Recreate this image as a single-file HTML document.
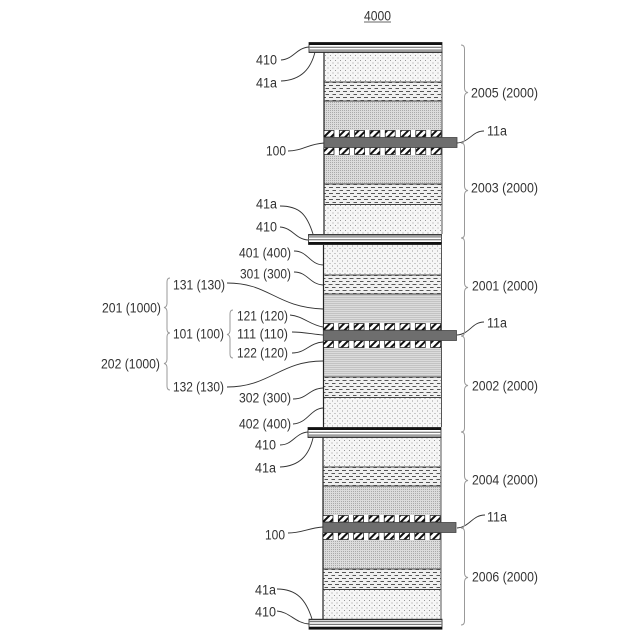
<!DOCTYPE html>
<html><head><meta charset="utf-8"><style>
html,body{margin:0;padding:0;background:#fff}
svg{display:block}
text{font-family:"Liberation Sans","Noto Sans CJK JP",sans-serif;font-size:13.5px;fill:#333}
.c{fill:none;stroke:#333;stroke-width:.9}
.b{fill:none;stroke:#999;stroke-width:1}
</style></head><body>
<svg width="640" height="640" viewBox="0 0 640 640" xmlns="http://www.w3.org/2000/svg">
<defs>
<pattern id="dots" width="5" height="5" patternUnits="userSpaceOnUse">
<rect width="5" height="5" fill="#f6f6f6"/><rect x="0" y="0" width="1" height="1" fill="#999"/><rect x="2.500" y="2.500" width="1" height="1" fill="#999"/>
</pattern>
<pattern id="dash" width="7" height="6" patternUnits="userSpaceOnUse">
<rect width="7" height="6" fill="#f0f0f0"/><rect x="0" y="1" width="4" height="1" fill="#555"/><rect x="3.500" y="4" width="4" height="1" fill="#555"/>
</pattern>
<pattern id="gray" width="2" height="2" patternUnits="userSpaceOnUse">
<rect width="2" height="2" fill="#dcdcdc"/><rect width="1" height="1" fill="#aaa"/>
</pattern>
<pattern id="hatch" width="5" height="5" patternUnits="userSpaceOnUse" patternTransform="rotate(45)">
<rect width="5" height="5" fill="#fff"/><rect width="2" height="5" fill="#111"/>
</pattern>
<g id="cell">
<rect x="324" y="52" width="118" height="30" fill="url(#dots)"/>
<rect x="324" y="82" width="118" height="19" fill="url(#dash)"/>
<rect x="324" y="101" width="118" height="29" fill="url(#gray)"/>
<rect x="324" y="155" width="118" height="29" fill="url(#gray)"/>
<rect x="324" y="184" width="118" height="20" fill="url(#dash)"/>
<rect x="324" y="204" width="118" height="30" fill="url(#dots)"/>
<path d="M324 82H442M324 101H442M324 184H442M324 204.500H442" stroke="#444" stroke-width=".9" fill="none"/>
<path d="M324 52V234" stroke="#222" stroke-width="1.200" fill="none"/>
<path d="M442 52V234" stroke="#555" stroke-width="1" fill="none"/>
<g fill="url(#hatch)" stroke="#111" stroke-width=".7">
<rect x="324" y="130.500" width="10" height="6.500"/><rect x="339.300" y="130.500" width="10" height="6.500"/><rect x="354.600" y="130.500" width="10" height="6.500"/><rect x="369.900" y="130.500" width="10" height="6.500"/><rect x="385.200" y="130.500" width="10" height="6.500"/><rect x="400.500" y="130.500" width="10" height="6.500"/><rect x="415.800" y="130.500" width="10" height="6.500"/><rect x="431.100" y="130.500" width="10" height="6.500"/>
<rect x="324" y="147.500" width="10" height="7"/><rect x="339.300" y="147.500" width="10" height="7"/><rect x="354.600" y="147.500" width="10" height="7"/><rect x="369.900" y="147.500" width="10" height="7"/><rect x="385.200" y="147.500" width="10" height="7"/><rect x="400.500" y="147.500" width="10" height="7"/><rect x="415.800" y="147.500" width="10" height="7"/><rect x="431.100" y="147.500" width="10" height="7"/>
</g>
<rect x="324" y="137.500" width="133" height="10" fill="#6e6e6e" stroke="#444" stroke-width=".8"/>
</g>
<g id="plate">
<rect x="0" y="0" width="133" height="10" fill="#fff" stroke="#222" stroke-width=".8"/>
<rect x="0" y="0" width="133" height="2.500" fill="#111"/>
<rect x="0" y="4.200" width="133" height="1.200" fill="#777"/>
<rect x="0" y="7" width="133" height="1.200" fill="#777"/>
<rect x="0" y="9" width="133" height="1.200" fill="#333"/>
</g>
</defs>
<use href="#cell"/>
<use href="#cell" transform="translate(-.5,193)"/>
<use href="#cell" transform="translate(-1,385)"/>

<use href="#plate" transform="translate(309,42.500)"/>
<use href="#plate" transform="translate(441.500,244.500) rotate(180)"/>
<use href="#plate" transform="translate(308,427.500)"/>
<use href="#plate" transform="translate(442,629.200) rotate(180)"/>

<g class="c">
<path class="c" d="M281 60C294 59 296 48 309 47"/>
<path class="c" d="M281 81C302 80 311 68 315 52"/>
<path class="c" d="M288 151C302 151 308 144 324 143"/>
<path class="c" d="M457 143C470 142 472 131 484 131"/>
<path class="c" d="M280 206C300 206 307 215 313 234"/>
<path class="c" d="M280 227C293 228 295 239 308 240"/>
<path class="c" d="M294 251C308 251 309 264 323 265"/>
<path class="c" d="M294 272C308 272 309 284 323 285"/>
<path class="c" d="M227 283C270 283 275 307 323 309"/>
<path class="c" d="M290 315C303 316 310 325 323 327"/>
<path class="c" d="M292 332C303 332 312 334 323 335"/>
<path class="c" d="M292 353C306 353 309 343 323 342"/>
<path class="c" d="M227 387C270 387 280 361 323 361"/>
<path class="c" d="M293 399C308 399 308 389 323 388"/>
<path class="c" d="M293 424C308 423 310 409 323 408"/>
<path class="c" d="M457 335C470 334 472 322 484 322"/>
<path class="c" d="M280 445C293 445 295 433 308 432"/>
<path class="c" d="M280 467C300 466 309 455 313 438"/>
<path class="c" d="M288 533C302 533 308 528 323 527"/>
<path class="c" d="M457 528C470 527 472 515 485 515"/>
<path class="c" d="M277 589C297 589 306 600 312 619"/>
<path class="c" d="M277 611C290 612 295 623 309 624"/>
</g>

<g class="b">
<path d="M461 45Q464.500 45 464.500 49V88Q464.500 92 468 92.500Q464.500 93 464.500 97V139Q464.500 143 461 143"/>
<path d="M461 143Q464.500 143 464.500 147V186Q464.500 190 468 190.500Q464.500 191 464.500 195V234Q464.500 238 461 238"/>
<path d="M461 238Q464.500 238 464.500 242V283Q464.500 287 468 287.500Q464.500 288 464.500 292V332Q464.500 336 461 336"/>
<path d="M461 336Q464.500 336 464.500 340V381Q464.500 385 468 385.500Q464.500 386 464.500 390V428Q464.500 432 461 432"/>
<path d="M461 432Q464.500 432 464.500 436V476Q464.500 480 468 480.500Q464.500 481 464.500 485V524Q464.500 528 461 528"/>
<path d="M461 528Q464.500 528 464.500 532V573Q464.500 577 468 577.500Q464.500 578 464.500 582V621Q464.500 625 461 625"/>
<path d="M170 278Q167 278 167 282V303Q167 307 164 307.500Q167 308 167 312V329Q167 333 170 333"/>
<path d="M170 333Q167 333 167 337V359Q167 363 164 363.500Q167 364 167 368V386Q167 390 170 390"/>
<path d="M233 310Q230 310 230 314V330Q230 334 227 334.500Q230 335 230 339V354Q230 358 233 358"/>
</g>

<text x="364" y="20.500" textLength="27" lengthAdjust="spacingAndGlyphs">4000</text>
<path d="M364 22H391" stroke="#333" stroke-width=".8"/>

<g transform="translate(0,.6)">
<text x="256" y="64" textLength="21" lengthAdjust="spacingAndGlyphs">410</text>
<text x="256" y="87" textLength="21" lengthAdjust="spacingAndGlyphs">41a</text>
<text x="266" y="155" textLength="20" lengthAdjust="spacingAndGlyphs">100</text>
<text x="256" y="208" textLength="21" lengthAdjust="spacingAndGlyphs">41a</text>
<text x="256" y="231" textLength="21" lengthAdjust="spacingAndGlyphs">410</text>
<text x="239" y="257" textLength="52" lengthAdjust="spacingAndGlyphs">401 (400)</text>
<text x="240" y="278" textLength="51" lengthAdjust="spacingAndGlyphs">301 (300)</text>
<text x="173" y="289" textLength="52" lengthAdjust="spacingAndGlyphs">131 (130)</text>
<text x="102" y="312" textLength="59" lengthAdjust="spacingAndGlyphs">201 (1000)</text>
<text x="237" y="320" textLength="51" lengthAdjust="spacingAndGlyphs">121 (120)</text>
<text x="173" y="338" textLength="51" lengthAdjust="spacingAndGlyphs">101 (100)</text>
<text x="237" y="338" textLength="51" lengthAdjust="spacingAndGlyphs">111 (110)</text>
<text x="237" y="357" textLength="51" lengthAdjust="spacingAndGlyphs">122 (120)</text>
<text x="101" y="368" textLength="59" lengthAdjust="spacingAndGlyphs">202 (1000)</text>
<text x="173" y="391" textLength="51" lengthAdjust="spacingAndGlyphs">132 (130)</text>
<text x="239" y="402" textLength="52" lengthAdjust="spacingAndGlyphs">302 (300)</text>
<text x="239" y="428" textLength="52" lengthAdjust="spacingAndGlyphs">402 (400)</text>
<text x="255" y="449" textLength="21" lengthAdjust="spacingAndGlyphs">410</text>
<text x="255" y="472" textLength="21" lengthAdjust="spacingAndGlyphs">41a</text>
<text x="265" y="539" textLength="20" lengthAdjust="spacingAndGlyphs">100</text>
<text x="255" y="594" textLength="21" lengthAdjust="spacingAndGlyphs">41a</text>
<text x="255" y="616" textLength="21" lengthAdjust="spacingAndGlyphs">410</text>
<text x="487" y="135" textLength="20" lengthAdjust="spacingAndGlyphs">11a</text>
<text x="487" y="327" textLength="20" lengthAdjust="spacingAndGlyphs">11a</text>
<text x="487" y="521" textLength="20" lengthAdjust="spacingAndGlyphs">11a</text>
<text x="471" y="97" textLength="67" lengthAdjust="spacingAndGlyphs">2005 (2000)</text>
<text x="471" y="192" textLength="67" lengthAdjust="spacingAndGlyphs">2003 (2000)</text>
<text x="472" y="290" textLength="66" lengthAdjust="spacingAndGlyphs">2001 (2000)</text>
<text x="472" y="390" textLength="66" lengthAdjust="spacingAndGlyphs">2002 (2000)</text>
<text x="472" y="484" textLength="66" lengthAdjust="spacingAndGlyphs">2004 (2000)</text>
<text x="472" y="581" textLength="66" lengthAdjust="spacingAndGlyphs">2006 (2000)</text>
</g>
</svg>
</body></html>
